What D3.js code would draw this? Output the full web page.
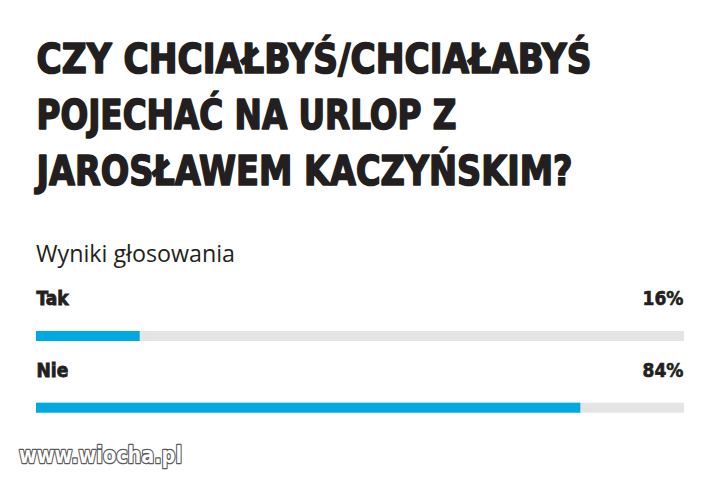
<!DOCTYPE html>
<html lang="pl">
<head>
<meta charset="UTF-8">
<title>Wyniki głosowania</title>
<script src="https://d3js.org/d3.v7.min.js"></script>
<style>
  body { margin: 0; background: #fff; }
  svg { display: block; }
</style>
</head>
<body>
<svg width="721" height="479"></svg>
<script>
const titleLines = ["CZY CHCIAŁBYŚ/CHCIAŁABYŚ", "POJECHAĆ NA URLOP Z", "JAROSŁAWEM KACZYŃSKIM?"];
const subtitle = "Wyniki głosowania";
const options = ["Tak", "Nie"];
const percents = [16, 84];
const watermark = "www.wiocha.pl";

const W = 721, H = 479;
const svg = d3.select("svg").attr("width", W).attr("height", H);

// title - heavy condensed look via stroke
const titleWidths = [555, 420, 536];
svg.append("g").selectAll("text")
  .data(titleLines)
  .join("text")
  .attr("x", 36.5)
  .attr("y", (d, i) => 73 + i * 56)
  .attr("textLength", (d, i) => titleWidths[i])
  .attr("lengthAdjust", "spacingAndGlyphs")
  .style("font-family", "'DejaVu Sans Condensed', 'DejaVu Sans', sans-serif")
  .style("font-weight", "bold")
  .style("font-size", "41px")
  .style("fill", "#231f20")
  .style("stroke", "#231f20")
  .style("stroke-width", 1.6)
  .style("stroke-linejoin", "round")
  .text(d => d);

svg.append("text")
  .attr("x", 36)
  .attr("y", 262)
  .attr("textLength", 199)
  .attr("lengthAdjust", "spacingAndGlyphs")
  .style("font-family", "'Open Sans', sans-serif")
  .style("font-size", "23px")
  .style("fill", "#231f20")
  .text(subtitle);

const x = d3.scaleLinear().domain([0, 100]).range([36, 684]);
const y = d3.scalePoint().domain(options).range([305, 376.7]);

const rows = svg.append("g").selectAll("g")
  .data(options.map((o, i) => ({ label: o, value: percents[i] })))
  .join("g");

rows.append("text")
  .attr("x", x(0) + 0.5)
  .attr("y", d => y(d.label))
  .style("font-family", "'DejaVu Sans Condensed', sans-serif")
  .style("font-weight", "bold")
  .style("font-size", "19px")
  .style("fill", "#231f20")
  .style("stroke", "#231f20")
  .style("stroke-width", 0.8)
  .text(d => d.label);

rows.append("text")
  .attr("x", x(100) - 0.5)
  .attr("y", d => y(d.label))
  .attr("text-anchor", "end")
  .style("font-family", "'DejaVu Sans Condensed', sans-serif")
  .style("font-weight", "bold")
  .style("font-size", "19px")
  .style("fill", "#231f20")
  .style("stroke", "#231f20")
  .style("stroke-width", 0.6)
  .text(d => d.value + "%");

rows.append("rect")
  .attr("x", x(0))
  .attr("y", d => y(d.label) + 26)
  .attr("width", x(100) - x(0))
  .attr("height", 10)
  .attr("fill", "#e4e4e4");

rows.append("rect")
  .attr("x", x(0))
  .attr("y", d => y(d.label) + 26)
  .attr("width", d => x(d.value) - x(0))
  .attr("height", 10)
  .attr("fill", "#00a9e0");

// watermark
svg.append("text")
  .attr("x", 19)
  .attr("y", 463)
  .attr("textLength", 163)
  .attr("lengthAdjust", "spacingAndGlyphs")
  .style("font-family", "'DejaVu Sans', sans-serif")
  .style("font-weight", "bold")
  .style("font-size", "23px")
  .style("fill", "#fff")
  .style("stroke", "#5a5a5a")
  .style("stroke-width", 2.6)
  .style("stroke-linejoin", "round")
  .style("paint-order", "stroke")
  .text(watermark);
</script>
</body>
</html>
